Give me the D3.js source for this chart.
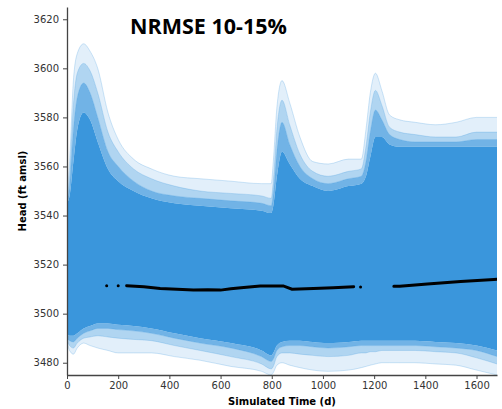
<!DOCTYPE html>
<html>
<head>
<meta charset="utf-8">
<script src="https://cdn.jsdelivr.net/npm/d3@7"></script>
<style>
  body { margin: 0; background: #fff; }
  svg { display: block; }
</style>
</head>
<body>
<div id="graph"></div>
<script>
// ensemble of simulated heads, summarised as bands
let times = [0, 10, 25, 40, 65, 90, 120, 160, 200, 260, 330, 420, 520, 640, 760, 798, 806, 820, 840, 870,
             910, 960, 1020, 1100, 1150, 1168, 1185, 1205, 1230, 1260, 1300, 1360, 1440, 1520, 1600, 1680];

let upperOuter = [3548, 3562, 3595, 3606, 3610, 3607, 3600, 3582, 3571, 3563,
                  3559, 3556, 3555, 3554, 3553, 3553, 3562, 3584, 3595, 3586,
                  3572, 3562, 3561, 3563, 3563, 3575, 3590, 3598, 3591, 3581,
                  3579, 3578, 3577, 3578, 3580, 3580];
let upper2 = [3547, 3556, 3585, 3598, 3602, 3599, 3590, 3574, 3566, 3559,
              3555, 3552, 3550, 3549, 3548, 3547, 3554, 3575, 3587, 3577,
              3565, 3558, 3556, 3558, 3559, 3568, 3582, 3591, 3585, 3576,
              3574, 3573, 3572, 3572, 3574, 3574];
let upper3 = [3546, 3552, 3575, 3588, 3594, 3590, 3580, 3566, 3560, 3554,
              3550, 3548, 3547, 3546, 3545, 3544, 3549, 3566, 3578, 3569,
              3560, 3555, 3553, 3555, 3556, 3562, 3574, 3583, 3579, 3573,
              3571, 3570, 3570, 3570, 3571, 3571];
let coreTop = [3545, 3548, 3562, 3575, 3582, 3579, 3570, 3559, 3554, 3550,
               3547, 3545, 3544, 3543, 3542, 3541, 3544, 3556, 3566, 3561,
               3555, 3552, 3550, 3552, 3553, 3556, 3564, 3572, 3572, 3569,
               3568, 3568, 3568, 3568, 3568, 3568];
let coreBottom = [3492, 3491, 3491, 3492, 3494, 3495, 3496, 3496, 3495.5, 3495,
                  3494, 3492, 3490, 3488, 3485, 3483, 3484, 3487, 3488.5, 3489,
                  3489, 3488.5, 3488, 3488.5, 3489, 3489, 3489, 3489, 3489, 3489,
                  3489, 3489, 3488.5, 3488, 3487, 3485];
let lower3 = [3490, 3489, 3488.5, 3490, 3492, 3493, 3494, 3494, 3493.5, 3493,
              3492, 3490, 3488, 3486, 3482.5, 3480.5, 3481.5, 3485, 3486.5, 3487,
              3487, 3486.5, 3486, 3486.5, 3487, 3487, 3487, 3487, 3487, 3487,
              3487, 3487, 3486.5, 3486, 3485, 3482.5];
let lower2 = [3489, 3487, 3486, 3488, 3490, 3490.5, 3491, 3490.5, 3490, 3489.5,
              3489, 3487, 3485, 3482.5, 3479.5, 3477.5, 3478.5, 3482.5, 3484, 3484,
              3483.5, 3483, 3482.5, 3483, 3484, 3484, 3484.5, 3484.5, 3485, 3485,
              3485, 3485, 3484.5, 3484, 3482, 3479.5];
let lowerOuter = [3488, 3485, 3483.5, 3486, 3488, 3487, 3486, 3485, 3484, 3484,
                  3484, 3482.5, 3481, 3478.5, 3476.5, 3475, 3476, 3479, 3480, 3479,
                  3478, 3477, 3476.5, 3477, 3478, 3478.5, 3479, 3479.5, 3480, 3480,
                  3480, 3480, 3479.5, 3479, 3477, 3475];

// observed heads (black)
let obsTimes1 = [233, 300, 364, 430, 494, 550, 600, 640, 680, 755, 845, 879, 963, 1040, 1120];
let obsVals1 = [3511.4, 3511.0, 3510.3, 3510.0, 3509.6, 3509.7, 3509.6, 3510.2, 3510.6, 3511.3, 3511.3, 3510.0, 3510.3, 3510.6, 3511.0];
let obsTimes2 = [1277, 1300, 1408, 1538, 1668, 1680];
let obsVals2 = [3511.2, 3511.2, 3512.1, 3513.1, 3513.9, 3514.0];
let obsDotTimes = [155, 200, 1147];
let obsDotVals = [3511.4, 3511.4, 3510.9];

let yTicks = [3480, 3500, 3520, 3540, 3560, 3580, 3600, 3620];
let xTicks = [0, 200, 400, 600, 800, 1000, 1200, 1400, 1600];

let width = 502, height = 409;
let margin = {left: 67, right: 5, top: 7, bottom: 34};
let blue = "#3a96dc";

let svg = d3.select("#graph")
    .append("svg")
    .attr("width", width)
    .attr("height", height)
;

let x = d3.scaleLinear()
    .domain([0, 1680])
    .range([margin.left, width - margin.right])
;
let y = d3.scaleLinear()
    .domain([3475, 3625])
    .range([height - margin.bottom, margin.top])
;

svg.append("clipPath")
    .attr("id", "plotclip")
    .append("rect")
    .attr("x", x(0))
    .attr("y", y(3625))
    .attr("width", x(1680) - x(0))
    .attr("height", y(3475) - y(3625))
;

let plot = svg.append("g").attr("clip-path", "url(#plotclip)");

// bands, lighter towards the edges of the ensemble
function band(top, bottom, opacity) {
    let area = d3.area()
        .x(function(d, i) { return x(times[i]); })
        .y0(function(d, i) { return y(bottom[i]); })
        .y1(function(d, i) { return y(top[i]); })
        .curve(d3.curveMonotoneX)
    ;
    plot.append("path")
        .attr("d", area(times))
        .attr("fill", blue)
        .attr("fill-opacity", opacity)
    ;
}

band(upperOuter, upper2, 0.15);
band(upper2, upper3, 0.4);
band(upper3, coreTop, 0.72);
band(coreTop, coreBottom, 1);
band(coreBottom, lower3, 0.72);
band(lower3, lower2, 0.4);
band(lower2, lowerOuter, 0.15);

// faint edge lines
let edge = d3.line()
    .x(function(d, i) { return x(times[i]); })
    .y(function(d) { return y(d); })
    .curve(d3.curveMonotoneX)
;
[upperOuter, upper2, upper3, lower3, lower2, lowerOuter].forEach(function(s) {
    plot.append("path")
        .attr("d", edge(s))
        .attr("fill", "none")
        .attr("stroke", blue)
        .attr("stroke-opacity", 0.3)
        .attr("stroke-width", 0.8)
    ;
});

// observations
let obsLine = d3.line()
    .x(function(d) { return x(d[0]); })
    .y(function(d) { return y(d[1]); })
;
[[obsTimes1, obsVals1], [obsTimes2, obsVals2]].forEach(function(o) {
    plot.append("path")
        .attr("d", obsLine(d3.zip(o[0], o[1])))
        .attr("fill", "none")
        .attr("stroke", "#000")
        .attr("stroke-width", 3)
        .attr("stroke-linecap", "round")
    ;
});
plot.selectAll(".obsdot")
    .data(d3.zip(obsDotTimes, obsDotVals))
    .enter()
    .append("circle")
    .attr("cx", function(d) { return x(d[0]); })
    .attr("cy", function(d) { return y(d[1]); })
    .attr("r", 1.5)
    .attr("fill", "#000")
;

// axes
let yAxis = svg.append("g")
    .attr("transform", `translate(${margin.left},0)`)
    .call(d3.axisLeft(y).tickValues(yTicks).tickFormat(d3.format("d"))
        .tickSize(4).tickPadding(4).tickSizeOuter(0))
;
let xAxis = svg.append("g")
    .attr("transform", `translate(0,${height - margin.bottom})`)
    .call(d3.axisBottom(x).tickValues(xTicks).tickFormat(d3.format("d"))
        .tickSize(4).tickPadding(3).tickSizeOuter(0))
;
[yAxis, xAxis].forEach(function(a) {
    a.selectAll("text")
        .attr("font-family", "DejaVu Sans")
        .attr("font-size", 10)
        .attr("fill", "#333")
    ;
    a.selectAll("line").attr("stroke", "#444");
    a.select(".domain").attr("stroke", "#444").attr("stroke-width", 1.3);
});

svg.append("text")
    .attr("transform", `translate(26,${(y(3475) + y(3625)) / 2}) rotate(-90)`)
    .attr("text-anchor", "middle")
    .attr("font-family", "DejaVu Sans")
    .attr("font-weight", "bold")
    .attr("font-size", 10)
    .text("Head (ft amsl)")
;
svg.append("text")
    .attr("x", (x(0) + x(1680)) / 2)
    .attr("y", 405)
    .attr("text-anchor", "middle")
    .attr("font-family", "DejaVu Sans")
    .attr("font-weight", "bold")
    .attr("font-size", 10)
    .text("Simulated Time (d)")
;

// title
svg.append("text")
    .attr("x", 130)
    .attr("y", 34)
    .attr("font-family", "Open Sans")
    .attr("font-weight", "bold")
    .attr("font-size", 21.5)
    .attr("fill", "#000")
    .text("NRMSE 10-15%")
;
</script>
</body>
</html>
